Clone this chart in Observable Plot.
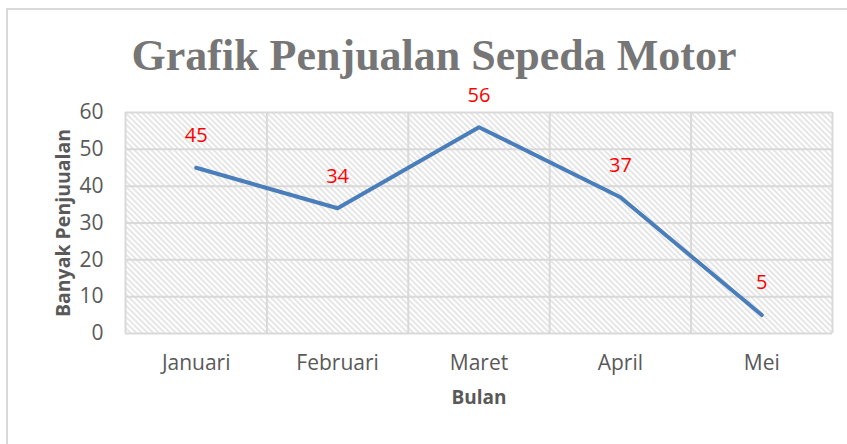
<!DOCTYPE html>
<html>
<head>
<meta charset="utf-8">
<script src="https://cdn.jsdelivr.net/npm/d3@7"></script>
<script src="https://cdn.jsdelivr.net/npm/@observablehq/plot@0.6"></script>
<style>
  html, body { margin: 0; padding: 0; background: #fff; overflow: hidden; }
  #wrap { position: relative; width: 847px; height: 444px; }
  #border { position: absolute; left: 6px; top: 8px; width: 860px; height: 460px; border: 2px solid #d9d9d9; box-sizing: border-box; }
  #chart { position: absolute; left: 0; top: 0; }
</style>
</head>
<body>
<div id="wrap">
  <div id="border"></div>
  <div id="chart"></div>
</div>
<script>
const months = ["Januari", "Februari", "Maret", "April", "Mei"];
const sales = [45, 34, 56, 37, 5];
const yTicks = [0, 10, 20, 30, 40, 50, 60];
const titleText = "Grafik Penjualan Sepeda Motor";
const xTitle = "Bulan";
const yTitle = "Banyak Penjuualan";

const data = months.map((m, i) => ({i, month: m, value: sales[i]}));
const bounds = d3.range(months.length + 1).map(k => k - 0.5);

const chart = Plot.plot({
  width: 847,
  height: 444,
  marginTop: 112,
  marginBottom: 111,
  marginLeft: 125,
  marginRight: 15,
  style: {fontFamily: "'Open Sans', 'Noto Sans', sans-serif", background: "transparent", overflow: "visible"},
  x: {domain: [-0.5, months.length - 0.5], axis: null},
  y: {domain: [0, 60], axis: null},
  marks: [
    Plot.frame({fill: "url(#hatch)", stroke: null}),
    Plot.ruleY(yTicks, {stroke: "#d9d9d9", strokeWidth: 2}),
    Plot.ruleX(bounds, {stroke: "#d9d9d9", strokeWidth: 2}),
    Plot.line(data, {x: "i", y: "value", stroke: "#4a7ebb", strokeWidth: 4, strokeLinecap: "round", strokeLinejoin: "round"}),
    Plot.text(data, {x: "i", y: "value", text: d => String(d.value), dy: -32, fill: "#ff0000", fontSize: 20}),
    // y tick labels
    Plot.text(yTicks, {x: -0.5, y: d => d, text: d => String(d), textAnchor: "end", dx: -22, fill: "#595959", fontSize: 21}),
    // x tick labels
    Plot.text(data, {x: "i", y: 0, text: "month", dy: 30, fill: "#595959", fontSize: 21}),
    // axis titles
    Plot.text([xTitle], {frameAnchor: "bottom", dy: 70, text: d => d, fill: "#595959", fontSize: 19, fontWeight: "bold"}),
    Plot.text([yTitle], {frameAnchor: "left", textAnchor: "middle", dx: -62, dy: 0, rotate: -90, text: d => d, fill: "#595959", fontSize: 19.5, fontWeight: "bold"}),
    // chart title
    Plot.text([titleText], {frameAnchor: "top", dy: -74, dx: -45, text: d => d, fill: "#767676", fontSize: 44, fontWeight: "bold", fontFamily: "'Liberation Serif', 'DejaVu Serif', serif"})
  ]
});

const svg = d3.select(chart);
const defs = svg.insert("defs", ":first-child");
const pat = defs.append("pattern")
  .attr("id", "hatch")
  .attr("patternUnits", "userSpaceOnUse")
  .attr("width", 4)
  .attr("height", 4)
  .attr("patternTransform", "rotate(-45)");
pat.append("rect").attr("width", 4).attr("height", 4).attr("fill", "#ffffff");
pat.append("line").attr("x1", 1).attr("y1", 0).attr("x2", 1).attr("y2", 4)
  .attr("stroke", "#dcdcdc").attr("stroke-width", 1.4);

document.getElementById("chart").appendChild(chart);
</script>
</body>
</html>
